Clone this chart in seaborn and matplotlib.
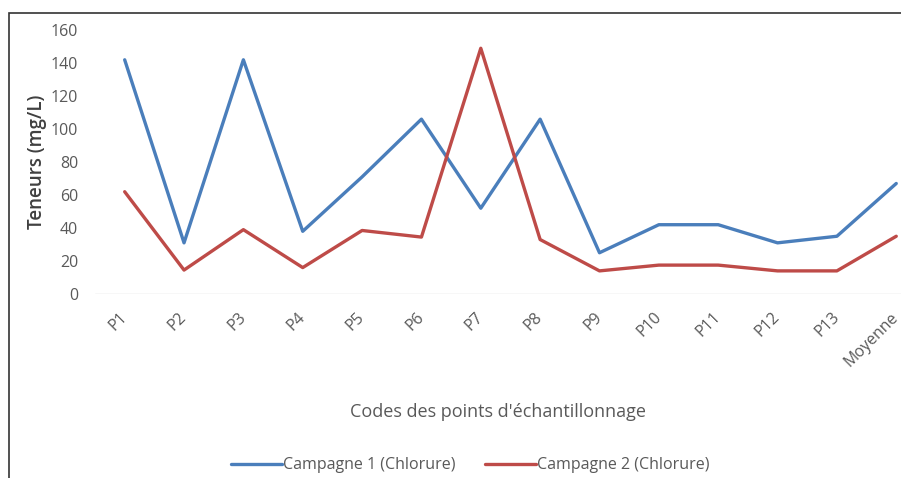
import pandas as pd
import matplotlib
matplotlib.use("Agg")
import matplotlib.pyplot as plt
import seaborn as sns
from matplotlib.patches import Rectangle

# sampling points
points = ["P1", "P2", "P3", "P4", "P5", "P6", "P7", "P8", "P9", "P10",
          "P11", "P12", "P13", "Moyenne"]
campagne1 = [142, 31, 142, 38, 71, 106, 52, 106, 25, 42, 42, 31, 35, 67]
campagne2 = [62, 14.5, 39, 16, 38.5, 34.5, 149, 33, 14, 17.5, 17.5, 14, 14, 35]
series_names = ["Campagne 1 (Chlorure)", "Campagne 2 (Chlorure)"]

df = pd.DataFrame({"point": points,
                   series_names[0]: campagne1,
                   series_names[1]: campagne2})
long_df = df.melt(id_vars="point", var_name="serie", value_name="teneur")

sns.set_style("white")
plt.rcParams["font.family"] = ["Open Sans", "DejaVu Sans"]

fig = plt.figure(figsize=(9.01, 4.78), dpi=100)
ax = fig.add_axes([95 / 901, 0.385, 1 - 95 / 901, 0.552])

sns.lineplot(data=long_df, x="point", y="teneur", hue="serie",
             palette=["#4A7EBB", "#BE4B48"], linewidth=2.4, sort=False,
             ax=ax, legend=True)

ax.set_ylim(0, 160)
ax.set_xlim(-0.5, 13.08)
ax.set_yticks(range(0, 161, 20))
for s in ax.spines.values():
    s.set_visible(False)
ax.axhline(0, color="#D9D9D9", linewidth=1, zorder=0)
ax.tick_params(axis="both", length=0, colors="#595959", labelsize=11.5)
ax.tick_params(axis="y", pad=12)
ax.tick_params(axis="x", pad=15)
plt.setp(ax.get_xticklabels(), rotation=45, ha="right", va="center",
         rotation_mode="anchor")

ax.set_ylabel("Teneurs (mg/L)", fontsize=13.5, color="#404040",
              fontweight="semibold", labelpad=3)
ax.set_xlabel("Codes des points d'échantillonnage", fontsize=13,
              color="#595959", labelpad=24)

handles, labels = ax.get_legend_handles_labels()
ax.legend(handles, labels, loc="center", bbox_to_anchor=(0.522, 0.027),
          bbox_transform=fig.transFigure, ncol=2, frameon=False,
          fontsize=11.5, labelcolor="#595959", handlelength=3.2,
          handletextpad=0.1, columnspacing=1.8)

# outer frame around the chart
fig.add_artist(Rectangle((9 / 901, -0.2), 1.2, 0.2 + (478 - 13) / 478,
                         transform=fig.transFigure, fill=False,
                         edgecolor="#333333", linewidth=1.2))

fig.savefig("out.png", dpi=100)
